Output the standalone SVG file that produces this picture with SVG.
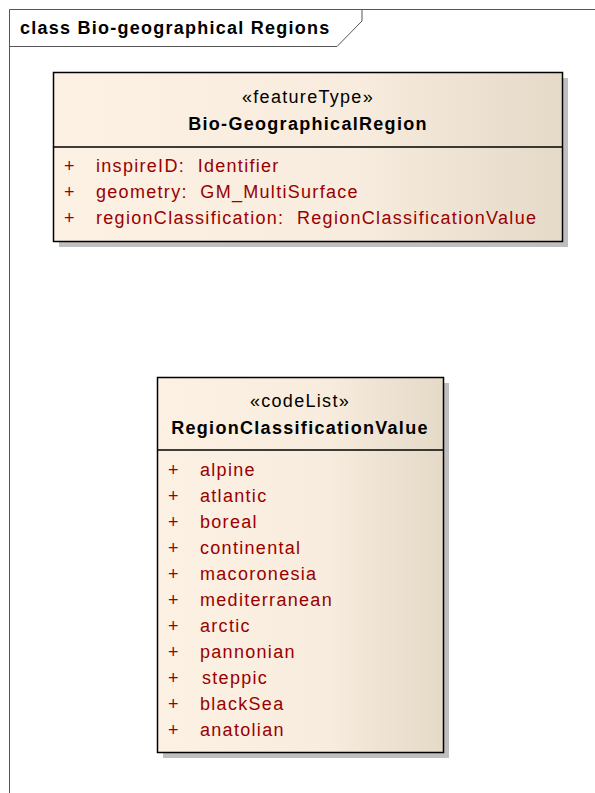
<svg xmlns="http://www.w3.org/2000/svg" width="595" height="793" viewBox="0 0 595 793">
<style>
text{font-family:"Liberation Sans",Arial,sans-serif;font-size:18px;letter-spacing:1.3px}
.st{text-anchor:middle;fill:#000}
.nm{text-anchor:middle;font-weight:bold;fill:#000;letter-spacing:1.3px}
.at{fill:#990000}
.box{fill:url(#g);stroke:#000;stroke-width:1.5}
.sh{fill:#bfbfbf}
.ln{stroke:#000;stroke-width:1.5}
.fr{fill:none;stroke:#555;stroke-width:1}
</style>
<defs>
<linearGradient id="g" x1="0" y1="0" x2="1" y2="0">
<stop offset="0" stop-color="#fcf1e3"/>
<stop offset="0.6" stop-color="#f7ecdd"/>
<stop offset="1" stop-color="#e5dac8"/>
</linearGradient>
</defs>
<rect width="595" height="793" fill="#fff"/>
<g id="frame">
<path class="fr" d="M9.5 800 V9.5 H600"/>
<path class="fr" d="M9.5 46.5 H337 L362 21 V9.5"/>
<text x="20" y="34" style="font-weight:bold;letter-spacing:1.25px">class Bio-geographical Regions</text>
</g>
<g id="BioGeographicalRegion">
<rect class="sh" x="59" y="78" width="509" height="169"/>
<rect class="box" x="53.5" y="72.5" width="509" height="169"/>
<line class="ln" x1="53.5" y1="147" x2="562.5" y2="147"/>
<text class="st" x="308" y="103">«featureType»</text>
<text class="nm" x="308" y="130">Bio-GeographicalRegion</text>
<text class="at" x="64" y="172">+</text><text class="at" x="96" y="172">inspireID:&#160; Identifier</text>
<text class="at" x="64" y="198">+</text><text class="at" x="96" y="198">geometry:&#160; GM_MultiSurface</text>
<text class="at" x="64" y="224">+</text><text class="at" x="96" y="224">regionClassification:&#160; RegionClassificationValue</text>
</g>
<g id="RegionClassificationValue">
<rect class="sh" x="163" y="383" width="286" height="375"/>
<rect class="box" x="157.5" y="377.5" width="286" height="375"/>
<line class="ln" x1="157.5" y1="450" x2="443.5" y2="450"/>
<text class="st" x="300" y="407">«codeList»</text>
<text class="nm" x="300" y="434">RegionClassificationValue</text>
<text class="at" x="168" y="476">+</text><text class="at" x="200" y="476">alpine</text>
<text class="at" x="168" y="502">+</text><text class="at" x="200" y="502">atlantic</text>
<text class="at" x="168" y="528">+</text><text class="at" x="200" y="528">boreal</text>
<text class="at" x="168" y="554">+</text><text class="at" x="200" y="554">continental</text>
<text class="at" x="168" y="580">+</text><text class="at" x="200" y="580">macoronesia</text>
<text class="at" x="168" y="606">+</text><text class="at" x="200" y="606">mediterranean</text>
<text class="at" x="168" y="632">+</text><text class="at" x="200" y="632">arctic</text>
<text class="at" x="168" y="658">+</text><text class="at" x="200" y="658">pannonian</text>
<text class="at" x="168" y="684">+</text><text class="at" x="202" y="684">steppic</text>
<text class="at" x="168" y="710">+</text><text class="at" x="200" y="710">blackSea</text>
<text class="at" x="168" y="736">+</text><text class="at" x="200" y="736">anatolian</text>
</g>
<g id="connectors"></g>
</svg>
